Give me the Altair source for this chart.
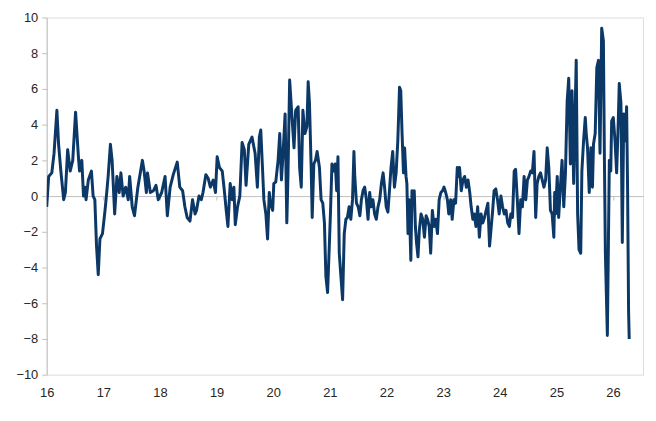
import altair as alt
import pandas as pd

# ---- data (x in years "16".."26", y value) ----
tA = [16.00, 16.035, 16.09, 16.13, 16.18, 16.21, 16.25, 16.30, 16.33, 16.37, 16.415, 16.46, 16.51, 16.56, 16.58,
      16.62, 16.65, 16.68, 16.695, 16.735, 16.79, 16.82, 16.85, 16.88, 16.91, 16.94, 16.985, 17.03, 17.06, 17.085,
      17.125, 17.155, 17.20, 17.24, 17.28, 17.31, 17.35, 17.395, 17.44, 17.465, 17.51, 17.55, 17.61, 17.69, 17.72, 17.76]
vA = [-0.6, 1.1, 1.3, 2.4, 4.8, 2.9, 1.4, -0.2, 0.2, 2.6, 1.4, 2.0, 4.7, 2.2, 1.4,
      2.0, 0.0, 0.5, -0.2, 0.9, 1.4, 0.0, -0.2, -2.8, -4.4, -2.4, -2.1, -0.8, 0.2, 1.1,
      2.9, 2.0, -1.0, 1.1, 0.2, 1.3, 0.0, 0.5, -0.2, 1.1, -0.6, -1.1, 0.5, 2.0, 1.4, 0.2]

tB = [17.78, 17.83, 17.885, 17.93, 17.97, 18.03, 18.09, 18.13, 18.18, 18.235, 18.305, 18.35, 18.40, 18.44, 18.48,
      18.53, 18.575, 18.62, 18.645, 18.69, 18.73, 18.76, 18.81, 18.85, 18.89, 18.94, 18.98, 19.01, 19.05, 19.10,
      19.14, 19.17, 19.20, 19.24, 19.275, 19.305, 19.33, 19.37, 19.41, 19.45, 19.49, 19.52, 19.568, 19.625]
vB = [1.3, 0.2, 0.3, 0.6, -0.2, 0.2, 1.1, -1.1, 0.5, 1.2, 1.9, 0.5, 0.3, -0.6, -1.2,
      -1.4, -0.2, -1.0, -0.8, 0.0, -0.2, 0.2, 1.2, 1.0, 0.5, 0.9, 0.2, 2.2, 1.6, 1.4,
      0.2, -0.8, -1.7, 0.7, -0.2, 0.5, -1.6, -0.6, 0.0, 3.0, 2.6, 0.6, 2.9, 3.3]

tC = [19.68, 19.72, 19.755, 19.78, 19.81, 19.835, 19.87, 19.90, 19.93, 19.95, 19.99, 20.01, 20.045, 20.086, 20.115,
      20.145, 20.17, 20.21, 20.24, 20.26, 20.29, 20.32, 20.34, 20.367, 20.396, 20.44, 20.466, 20.495, 20.524, 20.56,
      20.595, 20.617, 20.64, 20.67, 20.688, 20.717, 20.746, 20.775, 20.816, 20.845, 20.875, 20.904, 20.93, 20.96, 20.99,
      21.01, 21.037, 21.067, 21.096, 21.12, 21.143, 21.166, 21.195, 21.225, 21.254, 21.283, 21.31, 21.34, 21.37, 21.40]
vC = [2.4, 0.5, 3.3, 3.7, 1.6, -0.2, -1.0, -2.4, 0.2, -0.4, -0.8, 0.7, 0.8, 2.0, 3.5,
      0.9, 2.2, 4.6, -1.5, 1.1, 6.5, 5.0, 4.0, 2.7, 4.8, 5.0, 1.6, 0.5, 4.8, 3.5,
      3.9, 6.4, 5.2, 1.6, -1.2, 1.8, 2.0, 2.5, 1.6, -0.2, -0.4, -1.5, -4.5, -5.4, -2.8,
      -1.0, 1.8, 1.4, 1.8, 0.3, 2.2, -3.2, -4.5, -5.8, -2.1, -1.3, -1.2, -0.6, -1.3, -0.2]

tD = [21.425, 21.44, 21.47, 21.50, 21.53, 21.557, 21.586, 21.615, 21.645, 21.674, 21.703, 21.73, 21.76, 21.79, 21.82,
      21.85, 21.88, 21.91, 21.94, 21.966, 21.995, 22.025, 22.05, 22.08, 22.11, 22.14, 22.17, 22.2, 22.23, 22.252,
      22.275, 22.30, 22.32, 22.345, 22.36, 22.38, 22.40, 22.43, 22.45, 22.474, 22.49, 22.51, 22.53, 22.556, 22.58,
      22.61, 22.64, 22.67, 22.70, 22.725, 22.754, 22.78, 22.81, 22.84, 22.87, 22.90, 22.93, 22.96, 22.99, 23.016,
      23.045, 23.075, 23.10, 23.134, 23.16, 23.19, 23.22, 23.25]
vD = [2.5, 1.1, -0.4, -0.6, -1.1, -0.2, 0.3, 0.5, -0.2, -1.3, 0.2, -0.6, -0.2, -1.0, -1.3,
      -0.6, -0.2, 0.7, 1.3, 0.5, -0.6, -0.9, 0.2, 1.6, 2.5, 0.5, 1.3, 3.1, 6.1, 5.9,
      3.5, 1.3, 2.7, 1.1, 0.7, -2.1, -0.2, -3.6, 0.3, 0.2, 0.3, -1.7, -2.6, -3.4, -1.9,
      -1.0, -1.3, -2.3, -1.1, -1.3, -1.7, -3.2, -0.8, -1.7, -1.3, -2.1, -0.2, 0.2, 0.3, 0.5,
      0.2, -0.2, -1.0, -0.2, -1.3, -0.2, -0.4, 1.6]

tE = [23.26, 23.29, 23.32, 23.35, 23.38, 23.41, 23.44, 23.47, 23.495, 23.525, 23.55, 23.58, 23.61, 23.64, 23.67,
      23.70, 23.73, 23.76, 23.79, 23.82, 23.85, 23.875, 23.90, 23.93, 23.96, 23.99, 24.02, 24.05, 24.08, 24.11,
      24.14, 24.17, 24.196, 24.225, 24.255, 24.28, 24.31, 24.34, 24.37, 24.40, 24.43, 24.46, 24.488, 24.517, 24.546,
      24.575, 24.605, 24.635, 24.66, 24.69, 24.72, 24.75, 24.78, 24.81, 24.838, 24.866, 24.895, 24.925, 24.955]
vE = [1.1, 1.6, 0.3, 0.9, 1.1, 0.5, 0.9, 0.2, -0.6, -1.3, -1.0, -1.7, -0.6, -2.3, -1.0,
      -1.5, -1.2, -0.8, -0.4, -2.8, -1.7, -0.8, 0.3, 0.4, -0.2, -1.0, 0.0, -0.6, -1.0, -0.8,
      -1.5, -1.7, -1.0, -1.2, 1.4, 1.5, -0.2, -2.1, -0.2, -0.6, 1.1, -0.2, 0.9, 1.1, 1.4,
      1.3, 2.5, -1.2, 0.7, 1.1, 1.3, 0.9, 0.5, 0.9, 2.7, 1.6, -0.8, -1.0, -2.3]

tF = [24.97, 24.985, 25.015, 25.04, 25.07, 25.10, 25.13, 25.16, 25.19, 25.218, 25.247, 25.276, 25.305, 25.335, 25.35,
      25.375, 25.40, 25.43, 25.45, 25.48, 25.51, 25.527, 25.55, 25.58, 25.61, 25.637, 25.655, 25.685, 25.714, 25.743,
      25.77, 25.80, 25.83, 25.847, 25.865, 25.90, 25.918, 25.935, 25.96, 25.976, 26.005, 26.035, 26.064, 26.093, 26.11,
      26.14, 26.164, 26.19, 26.22, 26.24, 26.257, 26.275, 26.286]
vF = [0.2, -1.0, 1.1, -1.2, 0.5, 2.0, -0.6, 1.3, 5.3, 6.6, 1.8, 5.9, 0.7, 5.3, 7.6,
      -1.0, -3.0, -3.2, 1.4, 3.1, 4.4, 3.5, 2.7, 0.2, 2.7, 0.5, 2.9, 3.5, 7.2, 7.6,
      2.4, 9.4, 8.7, 2.4, -3.2, -7.8, -2.8, 2.0, 1.4, 4.2, 4.4, 3.1, 1.3, 4.2, 6.3,
      5.2, -2.6, 4.6, 3.1, 5.0, 0.5, -6.5, -8.0]

x_ticks = [16, 17, 18, 19, 20, 21, 22, 23, 24, 25, 26]
y_ticks = [-10, -8, -6, -4, -2, 0, 2, 4, 6, 8, 10]

rows = []
for ts, vs in [(tA, vA), (tB, vB), (tC, vC), (tD, vD), (tE, vE), (tF, vF)]:
    for t, v in zip(ts, vs):
        rows.append({"t": t, "v": v})
df = pd.DataFrame(rows)

FONT = "Liberation Sans"
GRAY = "#bfbfbf"
TXT = "#262626"

chart = alt.Chart(df).mark_line(
    color="#0b3866", strokeWidth=3, strokeJoin="round", clip=True
).encode(
    x=alt.X("t:Q",
            scale=alt.Scale(domain=[16, 26.53], nice=False, zero=False),
            axis=alt.Axis(values=x_ticks, format="d", title=None, grid=False,
                          domainColor=GRAY, domainWidth=1, tickColor=GRAY, tickSize=4,
                          offset=-180, labelPadding=188, labelFlush=False,
                          labelFont=FONT, labelFontSize=13, labelColor=TXT, labelAngle=0)),
    y=alt.Y("v:Q",
            scale=alt.Scale(domain=[-10, 10], nice=False),
            axis=alt.Axis(values=y_ticks, title=None, grid=False,
                          domainColor=GRAY, domainWidth=1, tickColor=GRAY, tickSize=5,
                          labelPadding=4, labelFlush=False,
                          labelFont=FONT, labelFontSize=13, labelColor=TXT)),
    order="t:Q",
).properties(
    width=601, height=360,
    autosize=alt.AutoSizeParams(type="none"),
    padding={"left": 39, "top": 8, "right": 5, "bottom": 30},
).configure_view(stroke=None).configure(background="white")

chart.save("out.html", embed_options={"renderer": "svg", "actions": False})
